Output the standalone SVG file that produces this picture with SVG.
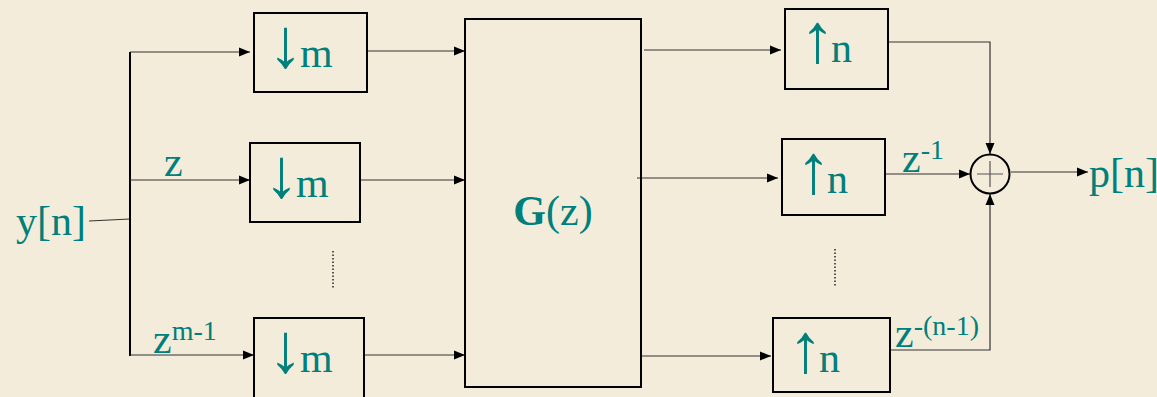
<svg xmlns="http://www.w3.org/2000/svg" width="1157" height="397" viewBox="0 0 1157 397">
<defs>
<marker id="ah" markerUnits="userSpaceOnUse" markerWidth="12" markerHeight="10" refX="11" refY="5" orient="auto">
<path d="M0,0.5 L11,5 L0,9.5 z" fill="#000"/>
</marker>
<style>
.bg{fill:#F4ECDA}
.box{fill:none;stroke:#000;stroke-width:2}
.ln{fill:none;stroke:#333;stroke-width:1.2}
.ar{fill:none;stroke:#333;stroke-width:1.2;marker-end:url(#ah)}
.dot{fill:none;stroke:#222;stroke-width:1.5;stroke-dasharray:1.5 2}
.t{font-family:"Liberation Serif","DejaVu Serif",serif;font-size:42px;fill:#007F7B}
.s{font-family:"Liberation Serif","DejaVu Serif",serif;font-size:28px;fill:#007F7B}
.a{font-size:70px}
</style>
</defs>
<rect class="bg" x="0" y="0" width="1157" height="397"/>
<g id="connectors">
<path class="ln" d="M89,221 L130,219"/>
<path class="ln" d="M130,52 V356" style="stroke:#000;stroke-width:2"/>
<path class="ar" d="M130,52 H250"/>
<path class="ar" d="M130,180 H250"/>
<path class="ar" d="M130,355 H254"/>
<path class="ar" d="M367,51 H465"/>
<path class="ar" d="M360,180 H465"/>
<path class="ar" d="M364,355 H465"/>
<path class="ar" d="M644,50 H781"/>
<path class="ar" d="M637,178 H778"/>
<path class="ar" d="M642,356 H771"/>
<path class="ar" d="M888,42 H990 V154"/>
<path class="ar" d="M885,174 H970"/>
<path class="ar" d="M890,350 H990 V194"/>
<path class="ar" d="M1011,172 H1088"/>
<path class="dot" d="M333,251 V288"/>
<path class="dot" d="M835,249 V287"/>
</g>
<g id="input"><text class="t" x="16" y="235">y[n]</text></g>
<g id="label-z"><text class="t" x="164" y="176">z</text></g>
<g id="label-zm1"><text class="t" x="153" y="353">z<tspan class="s" dy="-13">m-1</tspan></text></g>
<g id="down1"><rect class="box" x="254" y="13" width="113" height="79"/><text class="t" x="268" y="67"><tspan class="a">↓</tspan><tspan x="300">m</tspan></text></g>
<g id="down2"><rect class="box" x="250" y="143" width="110" height="79"/><text class="t" x="264" y="197"><tspan class="a">↓</tspan><tspan x="296">m</tspan></text></g>
<g id="down3"><rect class="box" x="254" y="318" width="110" height="84"/><text class="t" x="268" y="372"><tspan class="a">↓</tspan><tspan x="300">m</tspan></text></g>
<g id="G"><rect class="box" x="465" y="19" width="176" height="368"/><text class="t" x="553" y="225" text-anchor="middle"><tspan font-weight="bold">G</tspan>(z)</text></g>
<g id="up1"><rect class="box" x="785" y="9" width="103" height="80"/><text class="t" x="800" y="62"><tspan class="a">↑</tspan><tspan x="831">n</tspan></text></g>
<g id="up2"><rect class="box" x="782" y="139" width="103" height="76"/><text class="t" x="796" y="193"><tspan class="a">↑</tspan><tspan x="827">n</tspan></text></g>
<g id="up3"><rect class="box" x="773" y="318" width="117" height="74"/><text class="t" x="788" y="372"><tspan class="a">↑</tspan><tspan x="819">n</tspan></text></g>
<g id="label-z1"><text class="t" x="902" y="172">z<tspan class="s" dy="-13">-1</tspan></text></g>
<g id="label-zn1"><text class="t" x="895" y="347">z<tspan class="s" dy="-12">-(n-1)</tspan></text></g>
<g id="sum"><circle cx="990" cy="174" r="19.5" fill="none" stroke="#000" stroke-width="2"/><path d="M977,174 H1003 M990,161 V187" stroke="#555" stroke-width="1.2"/></g>
<g id="output"><text class="t" x="1089" y="187">p[n]</text></g>
</svg>
